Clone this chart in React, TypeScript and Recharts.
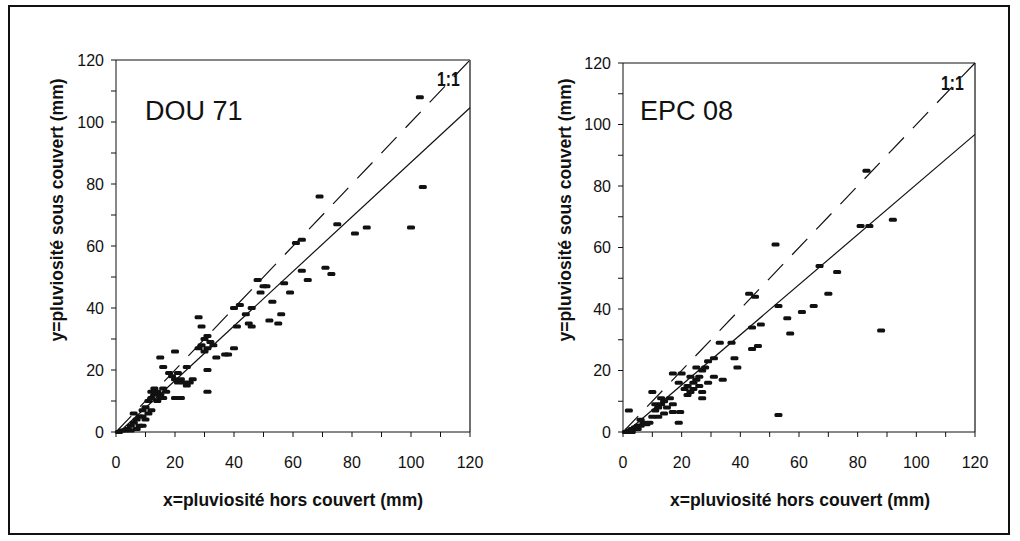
import React from 'react'
import { ScatterChart, Scatter, XAxis, YAxis, ReferenceLine } from 'recharts'

// DOU 71 : pluie hors couvert (x) / sous couvert (y), mm
const dou71X = [
  103, 104, 100, 85, 81, 69, 75, 63, 61, 71, 73, 63, 65, 59, 57, 53, 56, 49, 48, 50,
  51, 46, 40, 42, 52, 55, 44, 45, 41, 46, 40, 28, 29, 20, 15, 16, 24, 31, 31, 34,
  37, 38, 29, 30, 31, 32, 33, 30, 28, 31, 19, 20, 21, 22, 23, 24, 25, 18, 21, 26,
  20, 22, 12, 13, 14, 15, 16, 14, 17, 13, 15, 16, 12, 11, 9, 10, 12, 11, 6, 7,
  8, 9, 7, 5, 6, 8, 10, 4, 3, 2, 1, 5, 9,
]
const dou71Y = [
  108, 79, 66, 66, 64, 76, 67, 62, 61, 53, 51, 52, 49, 45, 48, 42, 38, 45, 49, 47,
  47, 40, 40, 41, 36, 35, 38, 35, 34, 34, 27, 37, 34, 26, 24, 21, 21, 20, 13, 24,
  25, 25, 28, 30, 27, 29, 28, 26, 27, 31, 18, 17, 16, 17, 16, 15, 16, 19, 19, 17,
  11, 11, 11, 12, 13, 12, 14, 10, 13, 14, 11, 11, 13, 10, 7, 8, 7, 6, 3, 4,
  5, 2, 1, 2, 6, 2, 4, 1, 0.5, 0.5, 0, 0.5, 5,
]

// EPC 08
const epc08X = [
  83, 92, 81, 84, 52, 45, 43, 67, 73, 70, 65, 61, 56, 57, 53, 88, 44, 47, 46, 44,
  37, 33, 31, 38, 39, 27, 31, 34, 29, 27, 27, 53, 17, 20, 19, 10, 2, 19, 17, 19.5,
  11, 21, 22, 23, 24, 25, 22, 26, 24, 23, 26, 28, 29, 25, 11, 12, 13, 14, 15, 12,
  16, 14, 13, 10, 17, 2, 3, 4, 5, 6, 7, 8, 9, 5, 3, 1, 6,
]
const epc08Y = [
  85, 69, 67, 67, 61, 44, 45, 54, 52, 45, 41, 39, 37, 32, 41, 33, 34, 35, 28, 27,
  29, 29, 24, 24, 21, 20, 18, 17, 16, 13, 11, 5.5, 19, 19, 16, 13, 7, 3, 6.5, 6.5,
  9, 14, 15, 13, 16, 17, 12, 18, 14, 18, 15, 21, 23, 21, 7, 8, 9, 10, 8, 5,
  11, 6, 11, 5, 9, 0.5, 1, 1.5, 2, 2, 3, 2.5, 3, 1, 0, 0, 4,
]

const axisTicks = [0, 10, 20, 30, 40, 50, 60, 70, 80, 90, 100, 110, 120]

// droites de régression (pente, ordonnée à l'origine)
const dou71Fit = { slope: 0.88, intercept: -1 }
const epc08Fit = { slope: 0.815, intercept: -1 }

const toPoints = (xs: number[], ys: number[]) => xs.map((x, i) => ({ x, y: ys[i] }))

const font = "'Liberation Sans', Arial, sans-serif"

const Dash = (props: any) => {
  const { cx, cy } = props
  return <rect x={cx - 4} y={cy - 2} width={8} height={4} rx={1.5} fill="#111" />
}

type PanelProps = {
  left: number
  marginTop: number
  marginRight: number
  data: { x: number; y: number }[]
  fit: { slope: number; intercept: number }
}

function Panel({ left, marginTop, marginRight, data, fit }: PanelProps) {
  // la droite part de y = 0
  const x0 = -fit.intercept / fit.slope
  return (
    <div style={{ position: 'absolute', left, top: 0 }}>
      <ScatterChart
        width={490}
        height={520}
        margin={{ top: marginTop, right: marginRight, left: 66, bottom: 48 }}
      >
        <XAxis
          type="number"
          dataKey="x"
          domain={[0, 120]}
          ticks={axisTicks}
          interval={0}
          tickFormatter={(v) => (v % 20 === 0 ? String(v) : '')}
          tickSize={5}
          tickMargin={20}
          height={40}
          stroke="#111"
          tick={{ fill: '#111', fontSize: 16, fontFamily: font }}
        />
        <YAxis
          type="number"
          dataKey="y"
          domain={[0, 120]}
          ticks={axisTicks}
          interval={0}
          tickFormatter={(v) => (v % 20 === 0 ? String(v) : '')}
          tickSize={5}
          tickMargin={7}
          width={50}
          stroke="#111"
          tick={{ fill: '#111', fontSize: 16, fontFamily: font }}
        />
        <ReferenceLine y={120} stroke="#111" strokeWidth={1.2} />
        <ReferenceLine x={120} stroke="#111" strokeWidth={1.2} />
        <ReferenceLine
          segment={[{ x: 0, y: 0 }, { x: 120, y: 120 }]}
          stroke="#111"
          strokeWidth={1.2}
          strokeDasharray="22 13"
        />
        <ReferenceLine
          segment={[
            { x: x0, y: 0 },
            { x: 120, y: fit.slope * 120 + fit.intercept },
          ]}
          stroke="#111"
          strokeWidth={1.2}
        />
        <Scatter data={data} shape={Dash} isAnimationActive={false} />
      </ScatterChart>
    </div>
  )
}

const yTitle: React.CSSProperties = {
  position: 'absolute',
  transform: 'translate(-50%, -50%) rotate(-90deg)',
  whiteSpace: 'nowrap',
  fontFamily: font,
  fontWeight: 'bold',
  fontSize: 17.5,
  color: '#111',
}
const xTitle: React.CSSProperties = { ...yTitle, transform: 'translate(-50%, -50%)' }
const panelName: React.CSSProperties = {
  position: 'absolute',
  fontFamily: font,
  fontSize: 27,
  lineHeight: 1,
  color: '#111',
}
const oneToOne: React.CSSProperties = {
  position: 'absolute',
  fontFamily: font,
  fontWeight: 'bold',
  fontSize: 21,
  lineHeight: 1,
  color: '#111',
  transform: 'scaleX(0.75)',
  transformOrigin: 'left top',
}

export default function App() {
  return (
    <div style={{ position: 'absolute', left: 0, top: 0, width: 1020, height: 541, background: '#fff' }}>
      <div
        style={{
          position: 'absolute',
          left: 8,
          top: 5,
          width: 1002,
          height: 530,
          border: '2px solid #111',
          boxSizing: 'border-box',
        }}
      />
      <Panel left={0} marginTop={60} marginRight={20} data={toPoints(dou71X, dou71Y)} fit={dou71Fit} />
      <Panel left={507} marginTop={63} marginRight={22} data={toPoints(epc08X, epc08Y)} fit={epc08Fit} />

      <div style={{ ...panelName, left: 145, top: 98 }}>DOU 71</div>
      <div style={{ ...panelName, left: 640, top: 98 }}>EPC 08</div>
      <div style={{ ...oneToOne, left: 437, top: 68 }}>1:1</div>
      <div style={{ ...oneToOne, left: 941, top: 72 }}>1:1</div>

      <div style={{ ...yTitle, left: 57, top: 210 }}>y=pluviosité sous couvert (mm)</div>
      <div style={{ ...yTitle, left: 565, top: 210 }}>y=pluviosité sous couvert (mm)</div>
      <div style={{ ...xTitle, left: 293, top: 500 }}>x=pluviosité hors couvert (mm)</div>
      <div style={{ ...xTitle, left: 800, top: 500 }}>x=pluviosité hors couvert (mm)</div>
    </div>
  )
}
